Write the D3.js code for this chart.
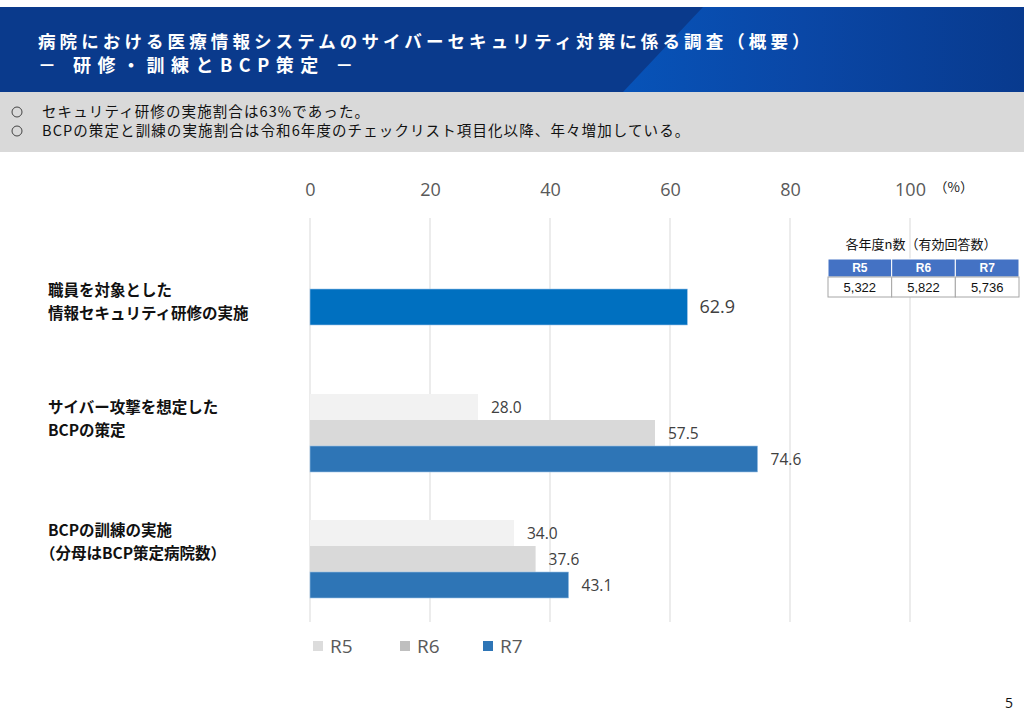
<!DOCTYPE html>
<html>
<head>
<meta charset="utf-8">
<script src="https://cdn.jsdelivr.net/npm/d3@7"></script>
<style>
  html, body { margin: 0; padding: 0; background: #fff; }
  svg { display: block; }
  .jp { font-family: "Noto Sans CJK JP", "Noto Sans", sans-serif; }
  .num { font-family: "Open Sans", "Noto Sans", sans-serif; }
</style>
</head>
<body>
<div id="chart"></div>
<script>
// data
const categories = [
  ["職員を対象とした", "情報セキュリティ研修の実施"],
  ["サイバー攻撃を想定した", "BCPの策定"],
  ["BCPの訓練の実施", "（分母はBCP策定病院数）"]
];
const seriesNames = ["R5", "R6", "R7"];
const valuesR5 = [null, 28.0, 34.0];
const valuesR6 = [null, 57.5, 37.6];
const valuesR7 = [62.9, 74.6, 43.1];
const tickValues = [0, 20, 40, 60, 80, 100];
const nCounts = ["5,322", "5,822", "5,736"];
const bullets = [
  "セキュリティ研修の実施割合は63%であった。",
  "BCPの策定と訓練の実施割合は令和6年度のチェックリスト項目化以降、年々増加している。"
];

const W = 1024, H = 724;
const svg = d3.select("#chart").append("svg").attr("width", W).attr("height", H);

// header band
const defs = svg.append("defs");
const grad2 = defs.append("linearGradient").attr("id", "hdr2").attr("x1", "0").attr("x2", "1");
grad2.append("stop").attr("offset", "0").attr("stop-color", "#0753b8");
grad2.append("stop").attr("offset", "0.45").attr("stop-color", "#0a47a6");
grad2.append("stop").attr("offset", "1").attr("stop-color", "#083a8e");

svg.append("rect").attr("x", 0).attr("y", 7).attr("width", W).attr("height", 85).attr("fill", "#0a3a8c");
svg.append("polygon")
  .attr("points", "703,7 1024,7 1024,92 623,92")
  .attr("fill", "url(#hdr2)");

svg.append("text").attr("class", "jp").attr("fill", "#fff")
  .attr("font-weight", "bold").attr("font-size", 17.5).attr("letter-spacing", 4.1)
  .attr("x", 38).attr("y", 48)
  .text("病院における医療情報システムのサイバーセキュリティ対策に係る調査（概要）");
svg.append("text").attr("class", "jp").attr("fill", "#fff")
  .attr("font-weight", "bold").attr("font-size", 18).attr("letter-spacing", 6.5)
  .attr("x", 38).attr("y", 72)
  .text("－ 研修・訓練とBCP策定 －");

// summary band
svg.append("rect").attr("x", 0).attr("y", 92).attr("width", W).attr("height", 60).attr("fill", "#d9d9d9");
bullets.forEach((b, i) => {
  const y = 117 + i * 19;
  svg.append("circle").attr("cx", 17).attr("cy", y - 5).attr("r", 5)
    .attr("fill", "none").attr("stroke", "#444").attr("stroke-width", 1);
  svg.append("text").attr("class", "jp").attr("x", 42).attr("y", y)
    .attr("font-size", 14.5).attr("letter-spacing", 1.1).attr("fill", "#111").text(b);
});

// scales
const x = d3.scaleLinear().domain([0, 100]).range([310, 910]);
const y = d3.scaleBand().domain(d3.range(categories.length)).range([244, 622]).padding(0);
const inner = d3.scaleBand().domain(seriesNames).range([-39, 39]).padding(0);
const colors = { R5: "#f2f2f2", R6: "#d9d9d9", R7: "#2e75b6" };
const legendColors = { R5: "#dcdcdc", R6: "#bfbfbf", R7: "#2e75b6" };
const labelOffset = [-16, -25, -28];

// gridlines
svg.append("g").selectAll("line").data(tickValues).join("line")
  .attr("x1", d => x(d)).attr("x2", d => x(d))
  .attr("y1", 218).attr("y2", 622)
  .attr("stroke", "#d9d9d9").attr("stroke-width", 1);

// top axis labels
const axis = svg.append("g").attr("transform", "translate(0,196)")
  .call(d3.axisTop(x).tickValues(tickValues).tickSize(0).tickPadding(0));
axis.select(".domain").remove();
axis.selectAll("text").attr("class", "num").attr("font-size", 18).attr("fill", "#595959");
svg.append("text").attr("class", "jp").attr("x", 934).attr("y", 192)
  .attr("font-size", 13.5).attr("fill", "#222").text("（%）");

// bars
const series = { R5: valuesR5, R6: valuesR6, R7: valuesR7 };
categories.forEach((cat, i) => {
  const g = svg.append("g");
  const cy = y(i) + y.bandwidth() / 2;
  const present = seriesNames.filter(s => series[s][i] != null);
  const single = present.length === 1;
  present.forEach(s => {
    const v = series[s][i];
    const h = single ? 36 : inner.bandwidth();
    const top = single ? cy - h / 2 : cy + inner(s);
    g.append("rect").attr("x", x(0)).attr("y", top)
      .attr("width", x(v) - x(0)).attr("height", h)
      .attr("fill", single ? "#0070c0" : colors[s])
      .attr("stroke", s === "R7" ? "#9dc3e6" : "none").attr("stroke-width", 0.6);
    g.append("text").attr("class", "num")
      .attr("x", x(v) + (single ? 12 : 13)).attr("y", top + h / 2)
      .attr("dy", "0.36em")
      .attr("font-size", single ? 18 : 15.5).attr("fill", "#404040")
      .text(d3.format(".1f")(v));
  });
  // category label
  const lab = svg.append("text").attr("class", "jp").attr("font-weight", "bold")
    .attr("font-size", 15.5).attr("fill", "#111");
  cat.forEach((line, j) => {
    lab.append("tspan").attr("x", i === 2 && j === 1 ? 40 : 48)
      .attr("y", cy + labelOffset[i] + 5 + j * 23).text(line);
  });
});

// legend
const legX = [313, 400, 483];
seriesNames.forEach((s, i) => {
  svg.append("rect").attr("x", legX[i]).attr("y", 641).attr("width", 10).attr("height", 10)
    .attr("fill", legendColors[s]);
  svg.append("text").attr("class", "num").attr("x", legX[i] + 17).attr("y", 646)
    .attr("dy", "0.36em").attr("font-size", 19).attr("fill", "#595959").text(s);
});

// n table
svg.append("text").attr("class", "jp").attr("x", 921).attr("y", 249).attr("text-anchor", "middle")
  .attr("font-size", 13).attr("fill", "#111").text("各年度n数（有効回答数）");
const tx = d3.scaleBand().domain(seriesNames).range([828, 1019]);
seriesNames.forEach((s, i) => {
  svg.append("rect").attr("x", tx(s)).attr("y", 259).attr("width", tx.bandwidth()).attr("height", 18)
    .attr("fill", "#4472c4").attr("stroke", "#fff").attr("stroke-width", 1);
  svg.append("text").attr("x", tx(s) + tx.bandwidth() / 2).attr("y", 268).attr("dy", "0.36em")
    .attr("text-anchor", "middle").attr("font-family", "Liberation Sans, Arial, sans-serif")
    .attr("font-weight", "bold").attr("font-size", 12).attr("fill", "#fff").text(s);
  svg.append("rect").attr("x", tx(s)).attr("y", 277).attr("width", tx.bandwidth()).attr("height", 20)
    .attr("fill", "#fff").attr("stroke", "#a6a6a6").attr("stroke-width", 1);
  svg.append("text").attr("x", tx(s) + tx.bandwidth() / 2).attr("y", 287).attr("dy", "0.36em")
    .attr("text-anchor", "middle").attr("font-family", "Liberation Sans, Arial, sans-serif")
    .attr("font-size", 13).attr("fill", "#111").text(nCounts[i]);
});

// page number
svg.append("text").attr("class", "num").attr("x", 1013).attr("y", 708).attr("text-anchor", "end")
  .attr("font-size", 14).attr("fill", "#111").text("5");
</script>
</body>
</html>
